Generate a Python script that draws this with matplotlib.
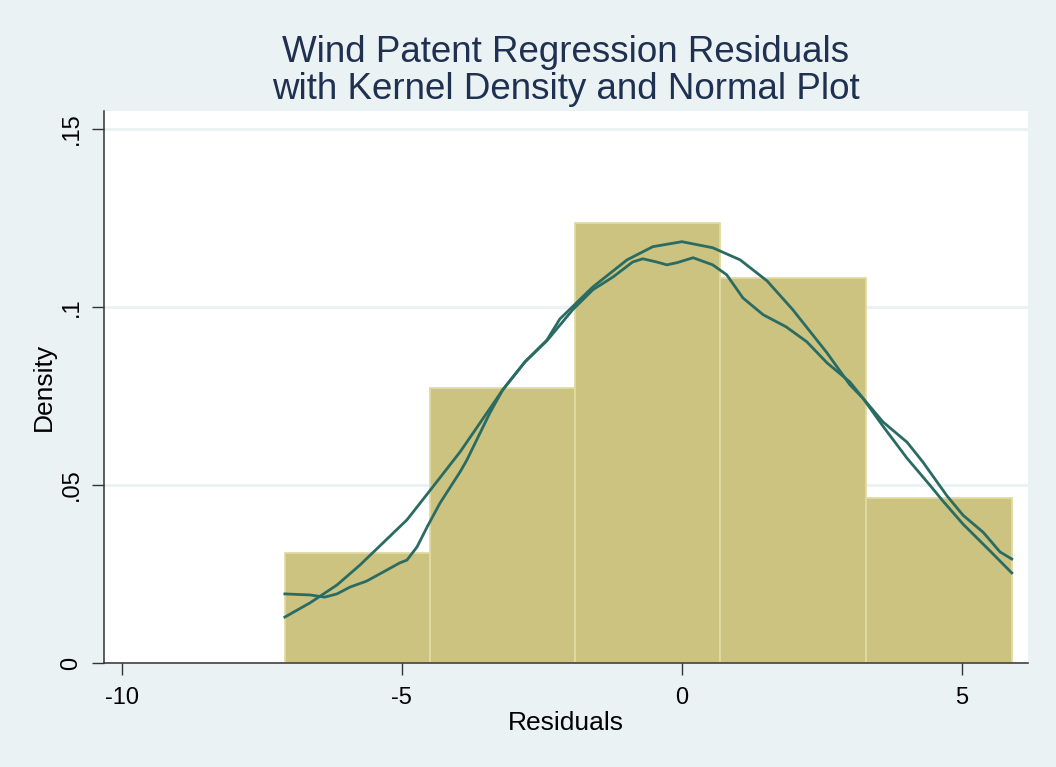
import numpy as np
from matplotlib import pyplot as plt

# histogram of residuals (density scale)
bin_edges = [-7.09, -4.50, -1.91, 0.68, 3.29, 5.89]
bar_density = [0.0309, 0.0772, 0.1236, 0.1081, 0.0463]

# normal density overlay
normal_x = [-7.09, -6.64, -6.16, -5.75, -5.34, -4.91, -4.63, -3.96, -3.20, -2.80,
            -2.41, -2.18, -1.59, -0.98, -0.52, 0.00, 0.55, 1.04, 1.52, 1.98,
            2.59, 3.00, 3.23, 3.59, 4.02, 4.43, 4.66, 5.02, 5.50, 5.89]
normal_y = [0.0129, 0.0169, 0.0219, 0.0275, 0.0337, 0.0402, 0.0458, 0.0593, 0.0767, 0.0846,
            0.0907, 0.0966, 0.1056, 0.1132, 0.1169, 0.1183, 0.1166, 0.1132, 0.1073, 0.0992,
            0.0871, 0.0781, 0.0744, 0.0665, 0.0575, 0.0499, 0.0455, 0.0390, 0.0315, 0.0253]

# kernel density overlay
kernel_x = [-7.09, -6.64, -6.38, -6.16, -5.93, -5.63, -5.27, -5.04, -4.91, -4.73,
            -4.55, -4.32, -3.96, -3.84, -3.43, -3.20, -2.80, -2.41, -1.95, -1.59,
            -1.23, -0.88, -0.70, -0.45, -0.27, -0.09, 0.20, 0.55, 0.80, 1.09,
            1.45, 1.86, 2.23, 2.59, 3.00, 3.23, 3.59, 4.02, 4.30, 4.73,
            5.02, 5.38, 5.68, 5.89]
kernel_y = [0.0194, 0.0191, 0.0185, 0.0194, 0.0213, 0.0230, 0.0261, 0.0281, 0.0289, 0.0326,
            0.0382, 0.0449, 0.0537, 0.0570, 0.0702, 0.0767, 0.0846, 0.0905, 0.0992, 0.1048,
            0.1084, 0.1126, 0.1135, 0.1126, 0.1118, 0.1124, 0.1138, 0.1118, 0.1090, 0.1025,
            0.0978, 0.0944, 0.0902, 0.0843, 0.0789, 0.0744, 0.0677, 0.0620, 0.0565, 0.0470,
            0.0415, 0.0367, 0.0312, 0.0292]

xticks = [-10, -5, 0, 5]
yticks = [0, 0.05, 0.1, 0.15]
ytick_labels = ["0", ".05", ".1", ".15"]

bg = "#eaf2f3"
plt.rcParams['font.family'] = ['Liberation Sans', 'DejaVu Sans']
plt.rcParams['axes.unicode_minus'] = False

fig = plt.figure(figsize=(10.56, 7.67), dpi=100, facecolor=bg)
ax = fig.add_axes((104/1056, 104/767, 924/1056, 552/767))
ax.set_facecolor("white")

ax.bar(bin_edges[:-1], bar_density, width=np.diff(bin_edges), align="edge",
       color="#cbc37f", edgecolor="#dfdba3", linewidth=1.3, zorder=2)
ax.plot(normal_x, normal_y, color="#2a6b64", lw=2.0, zorder=3, solid_joinstyle="round")
ax.plot(kernel_x, kernel_y, color="#2a6b64", lw=2.0, zorder=3, solid_joinstyle="round")

ax.set_xlim(-10.32, 6.18)
ax.set_ylim(0, 0.155)
ax.set_xticks(xticks)
ax.set_yticks(yticks, ytick_labels)
for lab in ax.get_yticklabels():
    lab.set_rotation(90)
    lab.set_va("center")

ax.set_axisbelow(True)
ax.yaxis.grid(True, color=bg, linewidth=2.2)
for s in ["top", "right"]:
    ax.spines[s].set_visible(False)
for s in ["left", "bottom"]:
    ax.spines[s].set_color("#333333")
    ax.spines[s].set_linewidth(1.1)
ax.tick_params(axis="both", direction="out", length=8.5, width=1, color="#333333",
               labelsize=17, labelcolor="black")
ax.tick_params(axis="x", pad=9)
ax.tick_params(axis="y", pad=7)

ax.set_xlabel("Residuals", fontsize=19, labelpad=1)
ax.set_ylabel("Density", fontsize=19, labelpad=3)

fig.text(566/1056, 1 - 62/767, "Wind Patent Regression Residuals", ha="center",
         va="baseline", fontsize=26.5, color="#1f3050")
fig.text(566/1056, 1 - 99/767, "with Kernel Density and Normal Plot", ha="center",
         va="baseline", fontsize=26.5, color="#1f3050")

fig.savefig("out.png", dpi=100, facecolor=bg)
